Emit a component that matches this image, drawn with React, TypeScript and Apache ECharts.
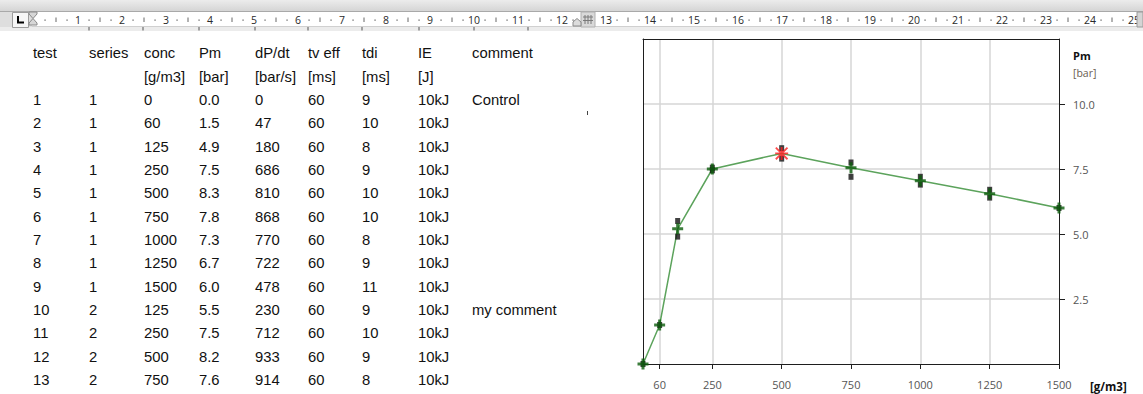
import React, { useEffect, useRef } from 'react';
import * as echarts from 'echarts';

// ---------- table data ----------
const tableHeaders = ['test', 'series', 'conc', 'Pm', 'dP/dt', 'tv eff', 'tdi', 'IE', 'comment'];
const tableUnits = ['', '', '[g/m3]', '[bar]', '[bar/s]', '[ms]', '[ms]', '[J]', ''];
const testIds = ['1', '2', '3', '4', '5', '6', '7', '8', '9', '10', '11', '12', '13'];
const seriesIds = ['1', '1', '1', '1', '1', '1', '1', '1', '1', '2', '2', '2', '2'];
const concValues = ['0', '60', '125', '250', '500', '750', '1000', '1250', '1500', '125', '250', '500', '750'];
const pmValues = ['0.0', '1.5', '4.9', '7.5', '8.3', '7.8', '7.3', '6.7', '6.0', '5.5', '7.5', '8.2', '7.6'];
const dpdtValues = ['0', '47', '180', '686', '810', '868', '770', '722', '478', '230', '712', '933', '914'];
const tvEffValues = ['60', '60', '60', '60', '60', '60', '60', '60', '60', '60', '60', '60', '60'];
const tdiValues = ['9', '10', '8', '9', '10', '10', '8', '9', '11', '9', '10', '9', '8'];
const ieValues = ['10kJ', '10kJ', '10kJ', '10kJ', '10kJ', '10kJ', '10kJ', '10kJ', '10kJ', '10kJ', '10kJ', '10kJ', '10kJ'];
const commentValues = ['Control', '', '', '', '', '', '', '', '', 'my comment', '', '', ''];

// ---------- chart data ----------
const meanConc = [0, 60, 125, 250, 500, 750, 1000, 1250, 1500];
const meanPm = [0, 1.5, 5.2, 7.5, 8.1, 7.55, 7.05, 6.55, 6.0];
const pointConc = [0, 60, 125, 125, 250, 250, 500, 500, 750, 750, 1000, 1000, 1250, 1250, 1500];
const pointPm = [0, 1.5, 5.5, 4.9, 7.55, 7.45, 8.3, 7.9, 7.75, 7.2, 7.2, 6.9, 6.7, 6.4, 6.0];
const xTickValues = [60, 250, 500, 750, 1000, 1250, 1500];
const xGridValues = [60, 250, 500, 750, 1000, 1250];
const yTickValues = [2.5, 5, 7.5, 10];

// ---------- ruler ----------
const rulerLabels = ['1', '2', '3', '4', '5', '6', '7', '8', '9', '10', '11', '12', '13', '14', '15', '16', '17', '18', '19', '20', '21', '22', '23', '24', '25'];
const rulerColumnMarks = [89, 143, 199, 255, 308, 362, 419, 474, 528];

// layout
const W = 1143;
const H = 394;
const RULER_X0 = 34;
const RULER_STEP = 44;
const colX = [33, 89, 144, 199, 255, 308, 362, 418, 472];
const rowY0 = 53.3;
const rowH = 23.33;
const TABLE_FONT = '"Liberation Sans", Arial, sans-serif';
const AXIS_FONT = '"Open Sans", "Noto Sans", sans-serif';
const FRAME = '#1e1e1e';
const GRIDLINE = '#d6d6d6';

const PLUS = 'path://M4,0H7V4H11V7H7V11H4V7H0V4H4Z';
const ASTER = 'path://M4.3,0H5.7V10H4.3Z M0,4.3H10V5.7H0Z M0,1L1,0L10,9L9,10Z M9,0L10,1L1,10L0,9Z';

function tableGraphics() {
  const els: any[] = [];
  const txt = (text: string, x: number, y: number) => ({
    type: 'text',
    x,
    y,
    silent: true,
    style: { text, fill: '#111', fontSize: 14.8, fontFamily: TABLE_FONT, textVerticalAlign: 'middle', textAlign: 'left' },
  });
  tableHeaders.forEach((h, i) => els.push(txt(h, colX[i], rowY0)));
  tableUnits.forEach((u, i) => u && els.push(txt(u, colX[i], rowY0 + rowH)));
  const cols = [testIds, seriesIds, concValues, pmValues, dpdtValues, tvEffValues, tdiValues, ieValues, commentValues];
  testIds.forEach((_, r) => {
    cols.forEach((col, c) => {
      if (col[r]) els.push(txt(col[r], colX[c], rowY0 + (r + 2) * rowH));
    });
  });
  // stray mark
  els.push({ type: 'line', silent: true, shape: { x1: 587.5, y1: 111, x2: 587.5, y2: 115 }, style: { stroke: '#444', lineWidth: 1 } });
  return els;
}

function rulerGraphics() {
  const els: any[] = [];
  els.push({
    type: 'rect', silent: true, shape: { x: 0, y: 0, width: W, height: 12 },
    style: { fill: new echarts.graphic.LinearGradient(0, 0, 0, 1, [{ offset: 0, color: '#ececec' }, { offset: 1, color: '#d3d3d3' }]) },
  });
  els.push({ type: 'line', silent: true, shape: { x1: 0, y1: 11.5, x2: W, y2: 11.5 }, style: { stroke: '#a9a9a9', lineWidth: 1 } });
  els.push({ type: 'rect', silent: true, shape: { x: 0, y: 12, width: W, height: 15 }, style: { fill: '#ffffff' } });
  els.push({ type: 'rect', silent: true, shape: { x: 0, y: 27, width: W, height: 4 }, style: { fill: '#ececec' } });
  els.push({ type: 'line', silent: true, shape: { x1: 0, y1: 26.5, x2: W, y2: 26.5 }, style: { stroke: '#d0d0d0', lineWidth: 1 } });
  // left margin area
  els.push({ type: 'rect', silent: true, shape: { x: 0, y: 12, width: 32, height: 15 }, style: { fill: '#dedede' } });
  // tab selector box
  els.push({ type: 'rect', silent: true, shape: { x: 12.5, y: 12.5, width: 16, height: 15 }, style: { fill: '#f6f6f6', stroke: '#9c9c9c', lineWidth: 1 } });
  els.push({ type: 'polyline', silent: true, shape: { points: [[18, 16], [18, 22.5], [24, 22.5]] }, style: { stroke: '#000', lineWidth: 2, fill: 'none' } });
  // hourglass indent marker
  els.push({ type: 'polygon', silent: true, shape: { points: [[29, 12], [37, 12], [37, 14], [33, 18.5], [37, 23], [37, 25], [29, 25], [29, 23], [33, 18.5], [29, 14]] }, style: { fill: '#d6d6d6', stroke: '#8a8a8a', lineWidth: 1 } });
  // numbers, dots and half ticks
  for (let n = 0; n <= rulerLabels.length; n++) {
    const base = RULER_X0 + RULER_STEP * n;
    if (n >= 1) {
      els.push({
        type: 'text', silent: true, x: base, y: 20,
        style: { text: rulerLabels[n - 1], fill: '#2a2a2a', fontSize: 10.5, fontFamily: AXIS_FONT, textAlign: 'center', textVerticalAlign: 'middle' },
      });
    }
    if (n === rulerLabels.length) break;
    const q1 = base + RULER_STEP * 0.25;
    const half = base + RULER_STEP * 0.5;
    const q3 = base + RULER_STEP * 0.75;
    els.push({ type: 'rect', silent: true, shape: { x: q1 - 0.6, y: 19.4, width: 1.3, height: 1.3 }, style: { fill: '#666' } });
    if (n !== 12) {
      els.push({ type: 'line', silent: true, shape: { x1: half, y1: 17.5, x2: half, y2: 22 }, style: { stroke: '#666', lineWidth: 1 } });
      els.push({ type: 'rect', silent: true, shape: { x: q3 - 0.6, y: 19.4, width: 1.3, height: 1.3 }, style: { fill: '#666' } });
    }
  }
  // column marker between 12 and 13
  els.push({ type: 'rect', silent: true, shape: { x: 581, y: 12, width: 14, height: 15 }, style: { fill: '#d9d9d9', stroke: '#b0b0b0', lineWidth: 1 } });
  [585, 588, 591].forEach((x) => els.push({ type: 'line', silent: true, shape: { x1: x, y1: 15, x2: x, y2: 24 }, style: { stroke: '#7a7a7a', lineWidth: 1 } }));
  [17, 20.5].forEach((y) => els.push({ type: 'line', silent: true, shape: { x1: 583, y1: y, x2: 593, y2: y }, style: { stroke: '#7a7a7a', lineWidth: 1 } }));
  els.push({ type: 'polygon', silent: true, shape: { points: [[573, 26], [573, 22], [577, 18.5], [581, 22], [581, 26]] }, style: { fill: '#dcdcdc', stroke: '#8a8a8a', lineWidth: 1 } });
  // right end marker
  els.push({ type: 'rect', silent: true, shape: { x: 1137, y: 12, width: 6, height: 15 }, style: { fill: '#d4d4d4', stroke: '#9a9a9a', lineWidth: 1 } });
  // column marks below the ruler
  rulerColumnMarks.forEach((x) => els.push({ type: 'line', silent: true, shape: { x1: x, y1: 27, x2: x, y2: 30.5 }, style: { stroke: '#555', lineWidth: 1 } }));
  return els;
}

function axisNameGraphics() {
  return [
    { type: 'text', silent: true, x: 1073, y: 55.5, style: { text: 'Pm', fill: '#111', fontSize: 11, fontWeight: 'bold', fontFamily: AXIS_FONT, textVerticalAlign: 'middle' } },
    { type: 'text', silent: true, x: 1073, y: 73, style: { text: '[bar]', fill: '#6a5d52', fontSize: 10.5, fontFamily: AXIS_FONT, textVerticalAlign: 'middle' } },
    { type: 'text', silent: true, x: 1090, y: 386, style: { text: '[g/m3]', fill: '#111', fontSize: 11.5, fontWeight: 'bold', fontFamily: AXIS_FONT, textVerticalAlign: 'middle' } },
  ];
}

function buildOption(): any {
  const maxIdx = meanPm.indexOf(Math.max(...meanPm));
  const lineData = meanConc.map((c, i) => [c, meanPm[i]]);
  const pointData = pointConc.map((c, i) => [c, pointPm[i]]);
  const plusData = lineData.filter((_, i) => i !== maxIdx);
  const maxData = [lineData[maxIdx]];
  return {
    animation: false,
    backgroundColor: '#ffffff',
    grid: {
      left: 643, top: 39, width: 416, height: 325,
      show: false, containLabel: false, outerBoundsMode: 'none',
    },
    xAxis: [
      {
        type: 'value', min: 0, max: 1500, interval: 250, position: 'bottom', z: 3,
        axisLine: { show: true, lineStyle: { color: FRAME, width: 1 } },
        axisTick: { show: true, customValues: xTickValues, length: 5, lineStyle: { color: FRAME } },
        axisLabel: { customValues: xTickValues, margin: 15, color: '#555', fontSize: 11, fontFamily: AXIS_FONT, formatter: (v: number) => String(v) },
        splitLine: { show: false },
      },
      {
        type: 'value', min: 0, max: 1500, interval: 250, position: 'top', z: 1,
        axisLine: { show: true, onZero: false, lineStyle: { color: FRAME, width: 1 } },
        axisTick: { show: false, customValues: xGridValues },
        axisLabel: { show: false },
        splitLine: { show: true, lineStyle: { color: GRIDLINE, width: 1.5 } },
      },
    ],
    yAxis: [
      {
        type: 'value', min: 0, max: 12.5, interval: 2.5, position: 'right', z: 3,
        axisLine: { show: true, onZero: false, lineStyle: { color: FRAME, width: 1 } },
        axisTick: { show: true, customValues: yTickValues, length: 6, lineStyle: { color: FRAME } },
        axisLabel: { customValues: yTickValues, margin: 14, color: '#555', fontSize: 11, fontFamily: AXIS_FONT, formatter: (v: number) => v.toFixed(1) },
        splitLine: { show: false },
      },
      {
        type: 'value', min: 0, max: 12.5, interval: 2.5, position: 'left', z: 1,
        axisLine: { show: true, onZero: false, lineStyle: { color: FRAME, width: 1 } },
        axisTick: { show: false, customValues: yTickValues },
        axisLabel: { show: false },
        splitLine: { show: true, lineStyle: { color: GRIDLINE, width: 1.5 } },
      },
    ],
    graphic: [...rulerGraphics(), ...tableGraphics(), ...axisNameGraphics()],
    series: [
      {
        type: 'line', data: lineData, showSymbol: false, silent: true, z: 4,
        xAxisIndex: 0, yAxisIndex: 0,
        lineStyle: { color: '#5ca35c', width: 1.5 },
      },
      {
        type: 'scatter', data: pointData, symbol: 'rect', symbolSize: [5, 6], silent: true, z: 5,
        xAxisIndex: 0, yAxisIndex: 0,
        itemStyle: { color: '#111' },
      },
      {
        type: 'scatter', data: plusData, symbol: PLUS, symbolSize: 11, silent: true, z: 6,
        xAxisIndex: 0, yAxisIndex: 0,
        itemStyle: { color: '#0c5e0c' },
      },
      {
        type: 'scatter', data: maxData, symbol: ASTER, symbolSize: 13, silent: true, z: 7,
        xAxisIndex: 0, yAxisIndex: 0,
        itemStyle: { color: '#ff1f1f' },
      },
    ],
  };
}

export default function App() {
  const ref = useRef<HTMLDivElement>(null);
  useEffect(() => {
    document.body.style.margin = '0';
    const chart = echarts.init(ref.current as HTMLDivElement, null, { renderer: 'svg' });
    chart.setOption(buildOption());
    return () => chart.dispose();
  }, []);
  return <div ref={ref} style={{ position: 'absolute', left: 0, top: 0, width: W, height: H, background: '#fff' }} />;
}
